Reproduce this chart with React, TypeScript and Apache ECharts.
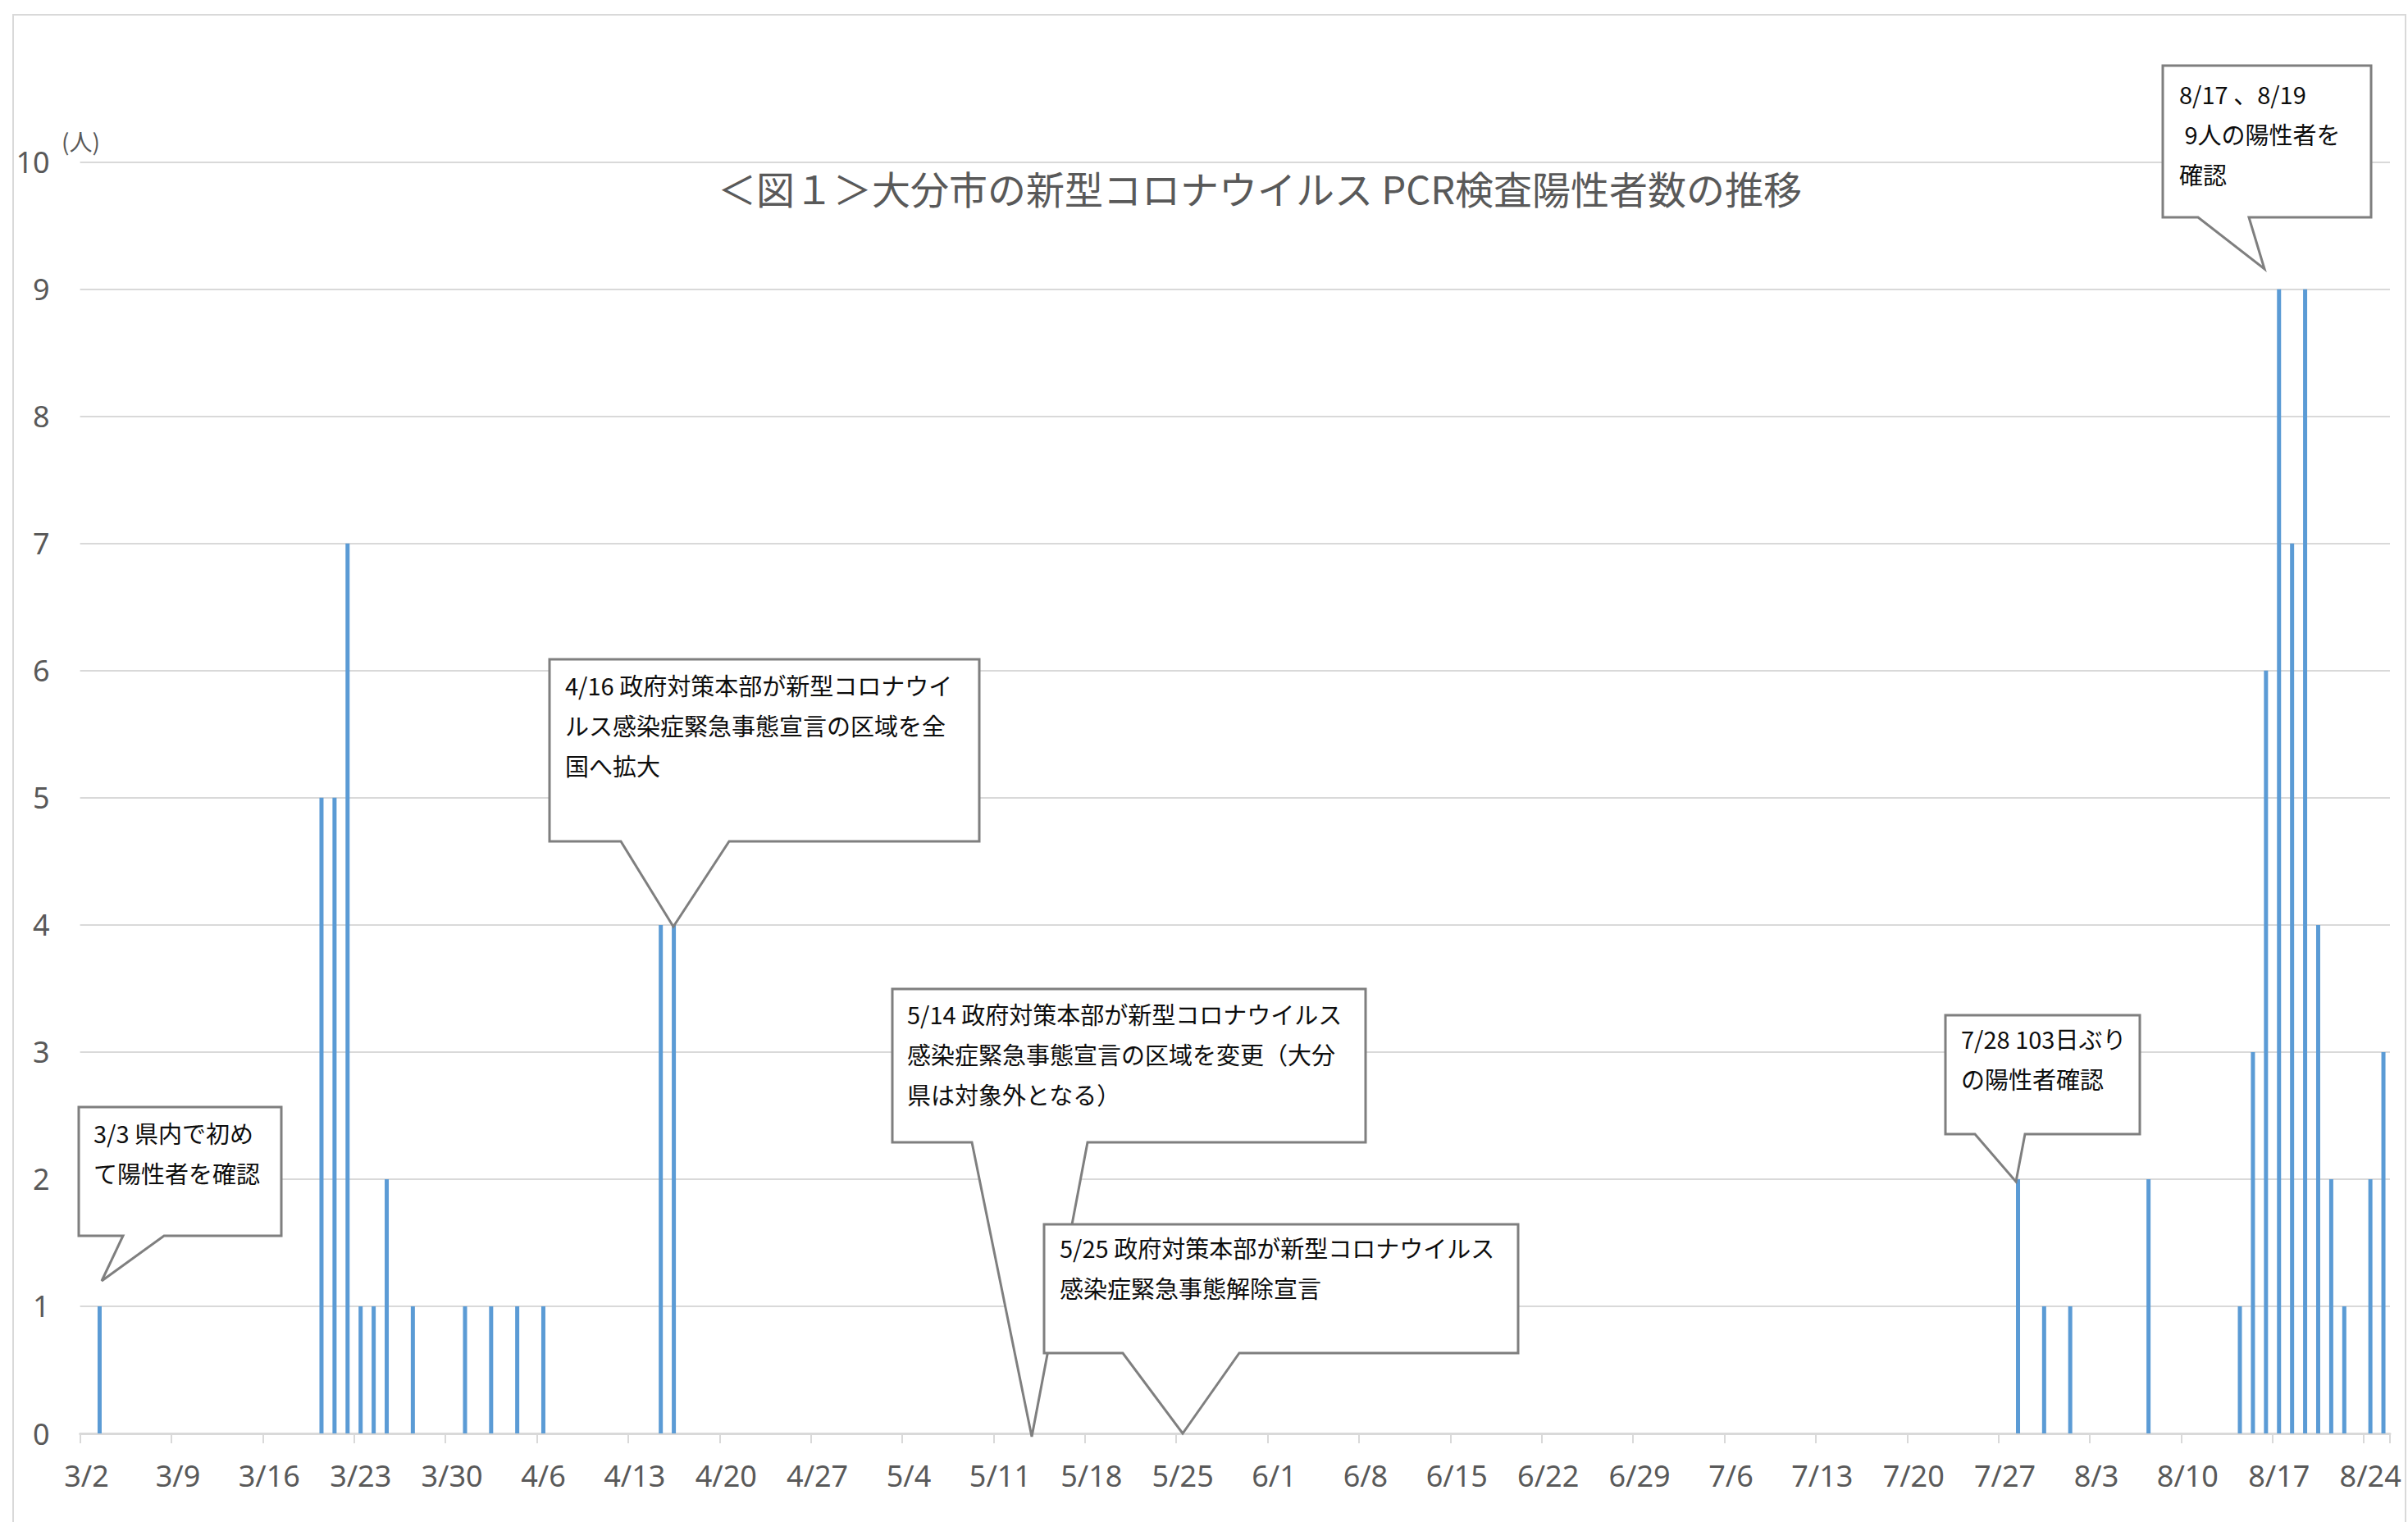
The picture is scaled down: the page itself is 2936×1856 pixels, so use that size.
import React, { useEffect, useRef } from "react";
import * as echarts from "echarts";

// ---- data ----
const TITLE = "＜図１＞大分市の新型コロナウイルス PCR検査陽性者数の推移";
const Y_UNIT = "(人)";
// months covered by the axis: [month, first day, last day]
const axisMonths: number[][] = [
  [3, 2, 31],
  [4, 1, 30],
  [5, 1, 31],
  [6, 1, 30],
  [7, 1, 31],
  [8, 1, 25],
];
const caseDates = [
  "3/3", "3/20", "3/21", "3/22", "3/23", "3/24", "3/25", "3/27", "3/31",
  "4/2", "4/4", "4/6", "4/15", "4/16",
  "7/28", "7/30", "8/1", "8/7", "8/14", "8/15", "8/16", "8/17", "8/18",
  "8/19", "8/20", "8/21", "8/22", "8/24", "8/25",
];
const caseCounts = [
  1, 5, 5, 7, 1, 1, 2, 1, 1,
  1, 1, 1, 4, 4,
  2, 1, 1, 2, 1, 3, 6, 9, 7,
  9, 4, 2, 1, 2, 3,
];
const noteTexts = [
  "3/3 県内で初め\nて陽性者を確認",
  "4/16 政府対策本部が新型コロナウイ\nルス感染症緊急事態宣言の区域を全\n国へ拡大",
  "5/14 政府対策本部が新型コロナウイルス\n感染症緊急事態宣言の区域を変更（大分\n県は対象外となる）",
  "5/25 政府対策本部が新型コロナウイルス\n感染症緊急事態解除宣言",
  "7/28 103日ぶり\nの陽性者確認",
  "8/17 、8/19\n 9人の陽性者を\n確認",
];

// ---- derived ----
const categories: string[] = [];
axisMonths.forEach(([m, a, b]) => {
  for (let d = a; d <= b; d++) categories.push(`${m}/${d}`);
});
const dailyCounts = categories.map((c) => {
  const i = caseDates.indexOf(c);
  return i >= 0 ? caseCounts[i] : 0;
});

// ---- layout (pixels) ----
const JP = '"Noto Sans CJK JP", "Noto Sans", sans-serif';
const LAT = '"Noto Sans", "Noto Sans CJK JP", sans-serif';

// box: [left, top, right, bottom], pointer: [baseLeft, baseRight, tipX, tipY], text: [x, firstLineCenterY]
const noteLayout = [
  { box: [96, 1350, 343, 1507], ptr: [150, 200, 124, 1562], txt: [114, 1384] },
  { box: [670, 804, 1194, 1026], ptr: [757, 889, 821, 1130], txt: [689, 838] },
  { box: [1088, 1206, 1665, 1393], ptr: [1185, 1326, 1258, 1752], txt: [1106, 1239] },
  { box: [1273, 1493, 1851, 1650], ptr: [1369, 1511, 1442, 1748], txt: [1292, 1524] },
  { box: [2372, 1238, 2609, 1383], ptr: [2408, 2469, 2458, 1441], txt: [2391, 1269] },
  { box: [2637, 80, 2891, 265], ptr: [2680, 2742, 2761, 328], txt: [2657, 117] },
];

function buildGraphics() {
  const g: any[] = [];
  g.push({
    type: "rect",
    z: 0,
    silent: true,
    shape: { x: 16, y: 18, width: 2917, height: 1900 },
    style: { fill: "none", stroke: "#d9d9d9", lineWidth: 2 },
  });
  g.push({
    type: "text",
    x: 75,
    y: 172,
    z: 50,
    style: {
      text: Y_UNIT,
      fill: "#595959",
      fontSize: 28,
      fontFamily: JP,
      verticalAlign: "middle",
      align: "left",
    },
  });
  noteLayout.forEach((n, i) => {
    const [L, T, R, B] = n.box;
    const [bl, br, tx, ty] = n.ptr;
    g.push({
      type: "polygon",
      z: 100 + i * 2,
      shape: {
        points: [
          [L, T],
          [R, T],
          [R, B],
          [br, B],
          [tx, ty],
          [bl, B],
          [L, B],
        ],
      },
      style: { fill: "#ffffff", stroke: "#7f7f7f", lineWidth: 3 },
    });
    g.push({
      type: "text",
      z: 101 + i * 2,
      x: n.txt[0],
      y: n.txt[1] - 28,
      style: {
        text: noteTexts[i],
        fill: "#0d0d0d",
        fontSize: 29,
        fontFamily: JP,
        lineHeight: 49,
        align: "left",
        verticalAlign: "top",
      },
    });
  });
  return g;
}

export default function App() {
  const ref = useRef<HTMLDivElement>(null);
  useEffect(() => {
    if (!ref.current) return;
    const chart = echarts.init(ref.current, null, { renderer: "svg" });
    chart.setOption({
      animation: false,
      backgroundColor: "#ffffff",
      textStyle: { fontFamily: LAT },
      title: {
        text: TITLE,
        left: 870,
        top: 200,
        textStyle: {
          fontSize: 47,
          fontWeight: "normal",
          color: "#595959",
          fontFamily: JP,
        },
      },
      grid: { left: 97.6, right: 22, top: 197.7, bottom: 108, containLabel: false },
      xAxis: {
        type: "category",
        data: categories,
        boundaryGap: true,
        axisLine: { lineStyle: { color: "#d9d9d9", width: 3 } },
        axisTick: {
          show: true,
          interval: 6,
          length: 12,
          lineStyle: { color: "#d9d9d9", width: 2 },
        },
        axisLabel: {
          interval: 6,
          color: "#595959",
          fontSize: 36,
          margin: 33,
          fontFamily: LAT,
        },
        splitLine: { show: false },
      },
      yAxis: {
        type: "value",
        min: 0,
        max: 10,
        interval: 1,
        axisLine: { show: false },
        axisTick: { show: false },
        axisLabel: { color: "#595959", fontSize: 36, margin: 37, fontFamily: LAT },
        splitLine: { lineStyle: { color: "#d9d9d9", width: 2 } },
      },
      series: [
        {
          type: "bar",
          data: dailyCounts,
          barWidth: 5,
          itemStyle: { color: "#5b9bd5" },
        },
      ],
      graphic: buildGraphics(),
    });
    return () => chart.dispose();
  }, []);
  return (
    <div
      ref={ref}
      style={{
        position: "fixed",
        left: 0,
        top: 0,
        width: "2936px",
        height: "1856px",
        background: "#fff",
      }}
    />
  );
}
